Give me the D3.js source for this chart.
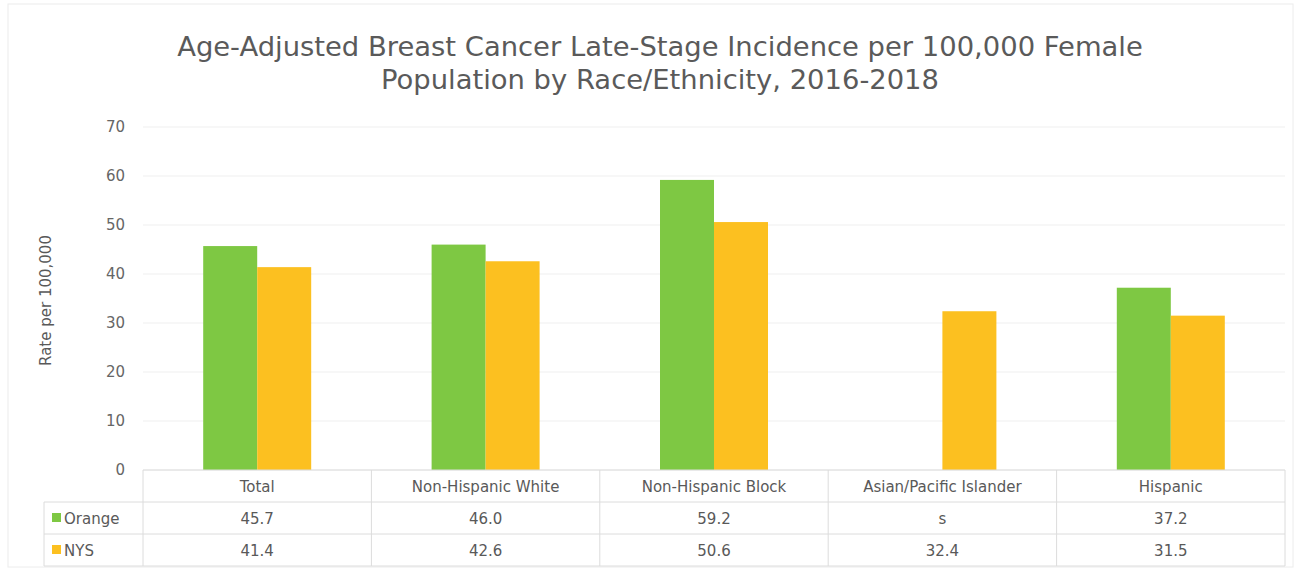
<!DOCTYPE html>
<html><head><meta charset="utf-8">
<script src="https://cdn.jsdelivr.net/npm/d3@7"></script>
<style>body{margin:0;background:#fff}svg{display:block}text{font-family:"DejaVu Sans",sans-serif;fill:#595959}</style>
</head><body><svg id="c" width="1299" height="571"></svg>
<script>
const categories = ["Total","Non-Hispanic White","Non-Hispanic Block","Asian/Pacific Islander","Hispanic"];
const seriesNames = ["Orange","NYS"];
const orangeValues = [45.7, 46.0, 59.2, null, 37.2];
const nysValues = [41.4, 42.6, 50.6, 32.4, 31.5];
const orangeLabels = ["45.7","46.0","59.2","s","37.2"];
const nysLabels = ["41.4","42.6","50.6","32.4","31.5"];
const yTicks = [0,10,20,30,40,50,60,70];
const titleLines = ["Age-Adjusted Breast Cancer Late-Stage Incidence per 100,000 Female","Population by Race/Ethnicity, 2016-2018"];
const colors = ["#7ec843","#fcc020"];

(function(){
const svg = d3.select("#c");
const pl = 143, pr = 1285, pt = 127, pb = 470;
svg.append("rect").attr("x",8).attr("y",4).attr("width",1285).attr("height",563).attr("fill","none").attr("stroke","#ececec");

const x0 = d3.scaleBand().domain(categories).range([pl,pr]);
const x1 = d3.scaleBand().domain(seriesNames).range([0,x0.bandwidth()]).paddingOuter(1.115).paddingInner(0);
const y = d3.scaleLinear().domain([0,70]).range([pb,pt]);

svg.append("g").selectAll("text").data(titleLines).join("text")
  .attr("x",660).attr("y",(d,i)=>56+i*33).attr("text-anchor","middle")
  .style("font-size","27.4px").style("fill","#5a5a5a").text(d=>d);

svg.append("g").selectAll("line").data(yTicks).join("line")
  .attr("x1",pl).attr("x2",pr).attr("y1",d=>y(d)).attr("y2",d=>y(d))
  .attr("stroke","#f0f0f0").attr("stroke-width",1.2);

const ya = svg.append("g").attr("transform",`translate(${pl},0)`)
  .call(d3.axisLeft(y).tickValues(yTicks).tickSize(0).tickPadding(18));
ya.select(".domain").remove();
ya.selectAll("text").style("font-size","15px").style("fill","#666").style("font-family","DejaVu Sans");

svg.append("text").attr("transform",`translate(51,${(pt+pb)/2+2}) rotate(-90)`)
  .attr("text-anchor","middle").style("font-size","15px").text("Rate per 100,000");

const data = categories.map((c,i)=>({c, vals:[orangeValues[i], nysValues[i]]}));
svg.append("g").selectAll("g").data(data).join("g")
  .attr("transform",d=>`translate(${x0(d.c)},0)`)
  .selectAll("rect").data(d=>d.vals.map((v,j)=>({k:seriesNames[j],v,j})).filter(e=>e.v!=null)).join("rect")
  .attr("x",e=>x1(e.k)).attr("width",x1.bandwidth())
  .attr("y",e=>y(e.v)).attr("height",e=>y(0)-y(e.v)).attr("fill",e=>colors[e.j]);

const tbl = svg.append("g");
const rowY = [470, 502, 534, 566];
const lc = "#dcdcdc";
tbl.append("line").attr("x1",pl).attr("x2",pr).attr("y1",rowY[0]).attr("y2",rowY[0]).attr("stroke",lc);
[1,2,3].forEach(i=>tbl.append("line").attr("x1",44).attr("x2",pr).attr("y1",rowY[i]).attr("y2",rowY[i]).attr("stroke",lc));
const vx = categories.map(c=>x0(c)).concat([pr]);
vx.forEach(v=>tbl.append("line").attr("x1",v).attr("x2",v).attr("y1",rowY[0]).attr("y2",rowY[3]).attr("stroke",lc));
tbl.append("line").attr("x1",44).attr("x2",44).attr("y1",rowY[1]).attr("y2",rowY[3]).attr("stroke",lc);

tbl.selectAll("text.cat").data(categories).join("text").attr("class","cat")
  .attr("x",d=>x0(d)+x0.bandwidth()/2).attr("y",492).attr("text-anchor","middle")
  .style("font-size","15px").text(d=>d);
const rows = [orangeLabels, nysLabels];
rows.forEach((r,ri)=>{
  tbl.selectAll("text.v"+ri).data(r).join("text").attr("class","v"+ri)
    .attr("x",(d,i)=>x0(categories[i])+x0.bandwidth()/2).attr("y",rowY[ri+1]+22).attr("text-anchor","middle")
    .style("font-size","15px").text(d=>d);
  tbl.append("rect").attr("x",52).attr("y",rowY[ri+1]+11).attr("width",9).attr("height",9).attr("fill",colors[ri]);
  tbl.append("text").attr("x",64).attr("y",rowY[ri+1]+22).style("font-size","15px").text(seriesNames[ri]);
});
})();
</script></body></html>
